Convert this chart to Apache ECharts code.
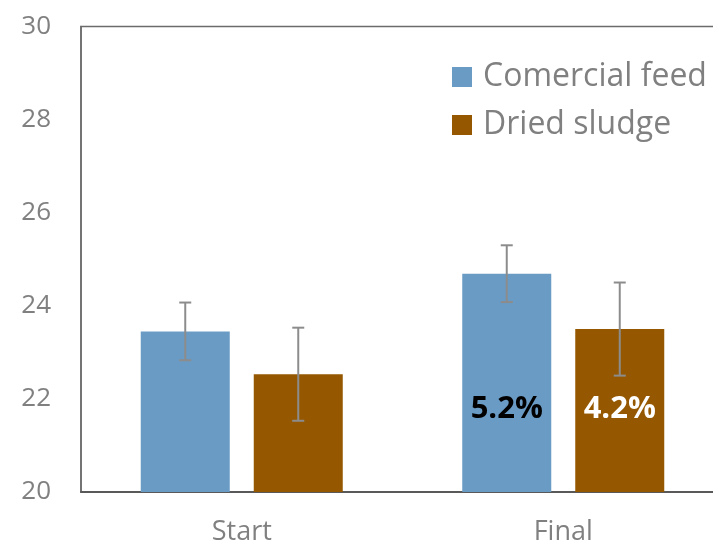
<!DOCTYPE html>
<html><head><meta charset="utf-8">
<script src="https://cdn.jsdelivr.net/npm/echarts@6/dist/echarts.min.js"></script>
<style>html,body{margin:0;padding:0;background:#fff;overflow:hidden}#c{width:713px;height:545px}</style>
</head><body><div id="c"></div>
<script>
const categories = ['Start', 'Final'];
const commercial = [23.45, 24.69];
const dried = [22.53, 23.50];
const commercialErr = [0.62, 0.61];
const driedErr = [1.0, 1.0];
const commercialLabels = ['', '5.2%'];
const driedLabels = ['', '4.2%'];
const yTicks = [20, 22, 24, 26, 28, 30];

const FONT = 'Open Sans';
const BAR_W = 89, GAP = 24;
const blue = '#6A9BC4', brown = '#955800';

function errSeries(vals, errs, side) {
  return {
    type: 'custom',
    z: 5,
    silent: true,
    data: vals.map((v, i) => [i, v - errs[i], v + errs[i]]),
    renderItem: function (params, api) {
      const off = side * (BAR_W + GAP) / 2;
      const lo = api.coord([api.value(0), api.value(1)]);
      const hi = api.coord([api.value(0), api.value(2)]);
      const x = lo[0] + off;
      const cap = 6;
      const style = { stroke: '#8c8c8c', lineWidth: 2 };
      return { type: 'group', children: [
        { type: 'line', shape: { x1: x, y1: hi[1], x2: x, y2: lo[1] }, style },
        { type: 'line', shape: { x1: x - cap, y1: hi[1], x2: x + cap, y2: hi[1] }, style },
        { type: 'line', shape: { x1: x - cap, y1: lo[1], x2: x + cap, y2: lo[1] }, style }
      ]};
    }
  };
}

const chart = echarts.init(document.getElementById('c'));
chart.setOption({
  animation: false,
  textStyle: { fontFamily: FONT },
  grid: { left: 81, top: 26.5, bottom: 53, width: 643, outerBoundsMode: 'none', containLabel: false,
    show: true, borderColor: '#6b6b6b', borderWidth: 1.5 },
  legend: {
    left: 452, top: 61, orient: 'vertical', itemWidth: 20, itemHeight: 20, itemGap: 16, padding: 0,
    icon: 'rect',
    textStyle: { fontSize: 32, lineHeight: 32, color: '#808080', fontFamily: FONT, padding: [0, 0, 0, 6] },
    data: ['Comercial feed', 'Dried sludge']
  },
  xAxis: {
    type: 'category', data: categories,
    axisLine: { lineStyle: { color: '#595959', width: 2 } },
    axisTick: { show: false },
    axisLabel: { fontSize: 27, color: '#808080', margin: 27, fontFamily: FONT }
  },
  yAxis: {
    type: 'value', min: yTicks[0], max: yTicks[yTicks.length - 1], interval: 2,
    axisLine: { show: true, lineStyle: { color: '#6b6b6b', width: 1.5 } },
    axisTick: { show: false },
    splitLine: { show: false },
    axisLabel: { fontSize: 26, color: '#808080', margin: 30, fontFamily: FONT }
  },
  series: [
    {
      name: 'Comercial feed', type: 'bar', data: commercial, barWidth: BAR_W, barGap: (GAP / BAR_W * 100) + '%',
      itemStyle: { color: blue },
      label: { show: true, position: 'insideBottom', distance: 67, formatter: p => commercialLabels[p.dataIndex],
        fontSize: 31, fontWeight: 'bold', color: '#000', fontFamily: FONT }
    },
    {
      name: 'Dried sludge', type: 'bar', data: dried, barWidth: BAR_W,
      itemStyle: { color: brown },
      label: { show: true, position: 'insideBottom', distance: 67, formatter: p => driedLabels[p.dataIndex],
        fontSize: 31, fontWeight: 'bold', color: '#fff', fontFamily: FONT }
    },
    errSeries(commercial, commercialErr, -1),
    errSeries(dried, driedErr, 1)
  ]
});
</script></body></html>
